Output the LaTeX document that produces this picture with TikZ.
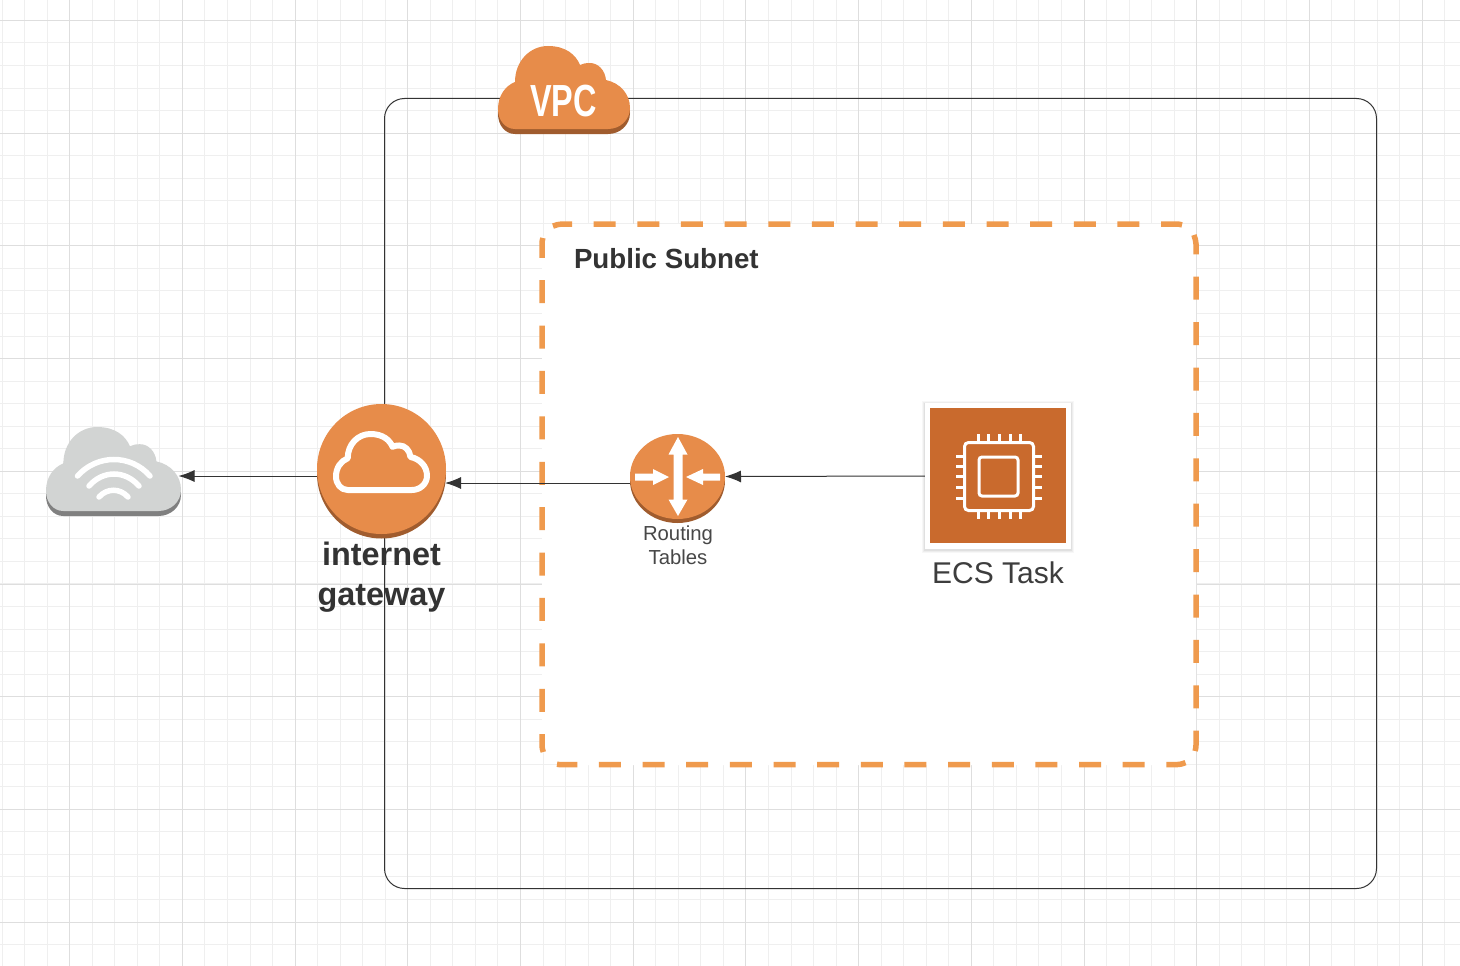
\documentclass[tikz,border=0pt]{standalone}
\usepackage{fontspec}
\setmainfont{Liberation Sans}
\usetikzlibrary{arrows.meta,shapes.geometric}
\definecolor{aorange}{HTML}{E78C4A}
\definecolor{ashade}{HTML}{A05C2E}
\definecolor{adash}{HTML}{EF9A4D}
\definecolor{atask}{HTML}{C96A2D}
\definecolor{agrey}{HTML}{D2D4D3}
\definecolor{agreyd}{HTML}{808080}
\definecolor{ink}{HTML}{333333}
\definecolor{gminor}{HTML}{EFEFEF}
\definecolor{gmajor}{HTML}{DEDEDE}
\newcommand{\cloudshape}{(17,83) .. controls (7,83) and (0,74) .. (0,63) .. controls (0,50) and (7,40) .. (17,36) .. controls (17,15) and (32,0) .. (50,0) .. controls (68,0) and (78,9) .. (82,19) .. controls (85,17.5) and (88,17) .. (92,17) .. controls (100,17) and (107,24) .. (108,34) .. controls (122,37) and (132,48) .. (132,62) .. controls (132,74) and (122,83) .. (110,83) -- cycle}
\tikzset{
  x=1pt,y=-1pt,
  conn/.style={draw=ink,line width=1pt,-{Latex[length=16pt,width=12pt]}},
  anchorbox/.style={inner sep=0pt,outer sep=0pt,minimum height=1pt},
  disc/.style={ellipse,inner sep=0pt,outer sep=0pt},
  lbl/.style={inner sep=0pt,outer sep=0pt,align=center,text=ink,anchor=base},
  pin/.style={draw=white,line width=3pt},
  wifiarc/.style={draw=white,line width=5.5pt,line cap=round},
  whitearrow/.style={fill=white,draw=none},
  hdash/.style={adash,line width=5.5pt,dash pattern=on 22pt off 21.65pt},
  vdash/.style={adash,line width=5.5pt,dash pattern=on 23pt off 22.4pt}
}
\begin{document}
\begin{tikzpicture}
\useasboundingbox (0,0) rectangle (1460,966);
\fill[white] (0,0) rectangle (1460,966);
% grid
\foreach \i in {0,...,64}{\pgfmathsetmacro{\gx}{2.1+22.54*\i}\draw[gminor,line width=1pt] (\gx,0) -- (\gx,966);}
\foreach \i in {1,...,42}{\pgfmathsetmacro{\gy}{-2.1+22.54*\i}\draw[gminor,line width=1pt] (0,\gy) -- (1460,\gy);}
\foreach \i in {0,...,12}{\pgfmathsetmacro{\gx}{69.7+112.7*\i}\draw[gmajor,line width=1pt] (\gx,0) -- (\gx,966);}
\foreach \i in {0,...,8}{\pgfmathsetmacro{\gy}{20.5+112.7*\i}\draw[gmajor,line width=1pt] (0,\gy) -- (1460,\gy);}
% VPC
\draw[ink,line width=1pt,rounded corners=20pt] (384.5,98.5) rectangle (1376.5,888.5);
% subnet
\fill[white,rounded corners=20pt] (542,224) rectangle (1196,765);
\draw[hdash,dash phase=2.7pt] (553,226.1) .. controls (556,225) and (559,224) .. (562,224) -- (1176,224) .. controls (1178,224) and (1180,224.3) .. (1182,224.9);
\draw[vdash,dash phase=3.4pt] (1193.9,235) .. controls (1195,238) and (1196,241) .. (1196,244) -- (1196,745) .. controls (1196,747) and (1195.7,749) .. (1195.1,751);
\draw[hdash,dash phase=2.6pt] (1185.5,762.6) .. controls (1182,764) and (1179,764.7) .. (1176,764.7) -- (562,764.7) .. controls (560,764.7) and (558.5,764.5) .. (557,764.2);
\draw[vdash,dash phase=5pt] (543.3,752) .. controls (542.4,750) and (542,747) .. (542,745) -- (542,244) .. controls (542,242) and (542.3,240) .. (542.9,238);
% nodes
\node[anchorbox,minimum width=130pt] (wifi) at (113.5,476) {};
\node[disc,minimum width=129pt,minimum height=130pt] (igw) at (381.5,469) {};
\node[disc,minimum width=95pt,minimum height=85pt] (router) at (677.5,476.5) {};
\node[inner sep=0pt,outer sep=0pt,minimum width=146pt,minimum height=146pt] (task) at (998,476) {};
% connectors
\draw[conn] (task.west) -- (router.east);
\draw[conn] ([yshift=-6.5pt]router.west) -- ([yshift=-14pt,xshift=-1pt]igw.east);
\draw[conn] ([yshift=-7pt]igw.west) -- (wifi.east);
% wifi cloud
\begin{scope}[shift={(46,432)},xscale=135/132,yscale=84/83]\fill[agreyd] \cloudshape;\end{scope}
\begin{scope}[shift={(46,427)},xscale=135/132,yscale=84/83]\fill[agrey] \cloudshape;\end{scope}
\draw[wifiarc] (77.5,476) .. controls (97,454) and (131,454) .. (150,476);
\draw[wifiarc] (89,486) .. controls (103,470) and (125,470) .. (139,486);
\draw[wifiarc] (99,497) .. controls (107,488) and (120,488) .. (128,497);
% vpc cloud
\begin{scope}[shift={(498,51)}]\fill[ashade] \cloudshape;\end{scope}
\begin{scope}[shift={(498,46)}]\fill[aorange] \cloudshape;\end{scope}
\node[inner sep=0pt,text=white] (vpclabel) at (563.5,101.5) {\fontsize{45}{46}\bfseries\selectfont\scalebox{0.72}[1]{VPC}};
% igw
\fill[ashade] (381.5,473.5) ellipse [x radius=64.5,y radius=65];
\fill[aorange] (igw.center) ellipse [x radius=64.5,y radius=65];
\begin{scope}[shift={(336,434)},xscale=91/132,yscale=56/83]\draw[white,line width=6pt,line join=round] \cloudshape;\end{scope}
% router
\fill[ashade] (677.5,480.5) ellipse [x radius=47.5,y radius=42.5];
\fill[aorange] (router.center) ellipse [x radius=47.5,y radius=42.5];
\fill[whitearrow] (678,437) -- (687.5,454.5) -- (682.5,454.5) -- (682.5,499.5) -- (687.5,499.5) -- (678,516) -- (668.5,499.5) -- (673.5,499.5) -- (673.5,454.5) -- (668.5,454.5) -- cycle;
\fill[whitearrow] (635,473.5) -- (653,473.5) -- (653,469) -- (669,477) -- (653,485) -- (653,480.5) -- (635,480.5) -- cycle;
\fill[whitearrow] (720,473.5) -- (703,473.5) -- (703,469) -- (686,477) -- (703,485) -- (703,480.5) -- (720,480.5) -- cycle;
% task
\foreach \d/\o in {3/0.03,2/0.04,1/0.05}{\fill[black,opacity=\o] (925-\d,403-\d+1) rectangle (1071+\d,549+\d+1);}
\fill[white] (925,403) rectangle (1071,549);
\fill[atask] (930,408) rectangle (1066,543);
\draw[white,line width=3pt,rounded corners=4pt] (964.5,442.5) rectangle (1033.5,510.5);
\draw[white,line width=3pt,rounded corners=3pt] (979,457) rectangle (1018,496);
\foreach \p in {978,988,999,1010,1020}{\draw[pin] (\p,434) -- (\p,441);\draw[pin] (\p,512) -- (\p,519);}
\foreach \p in {456,466,476,487,498}{\draw[pin] (956,\p) -- (963,\p);\draw[pin] (1035,\p) -- (1042,\p);}
% labels
\node[lbl,anchor=west,font=\bfseries\fontsize{27.7}{32}\selectfont] (subnetlabel) at (574,259) {Public Subnet};
\node[lbl,anchor=center,font=\bfseries\fontsize{32.4}{40}\selectfont] (igwlabel) at (381.5,577.5) {internet\\gateway};
\node[lbl,anchor=center,text=ink!90,font=\fontsize{20.3}{24}\selectfont] (routerlabel) at (678,545) {Routing\\Tables};
\node[lbl,anchor=center,text=ink!95,font=\fontsize{30}{34}\selectfont] (tasklabel) at (998,573) {ECS Task};
\end{tikzpicture}
\end{document}
